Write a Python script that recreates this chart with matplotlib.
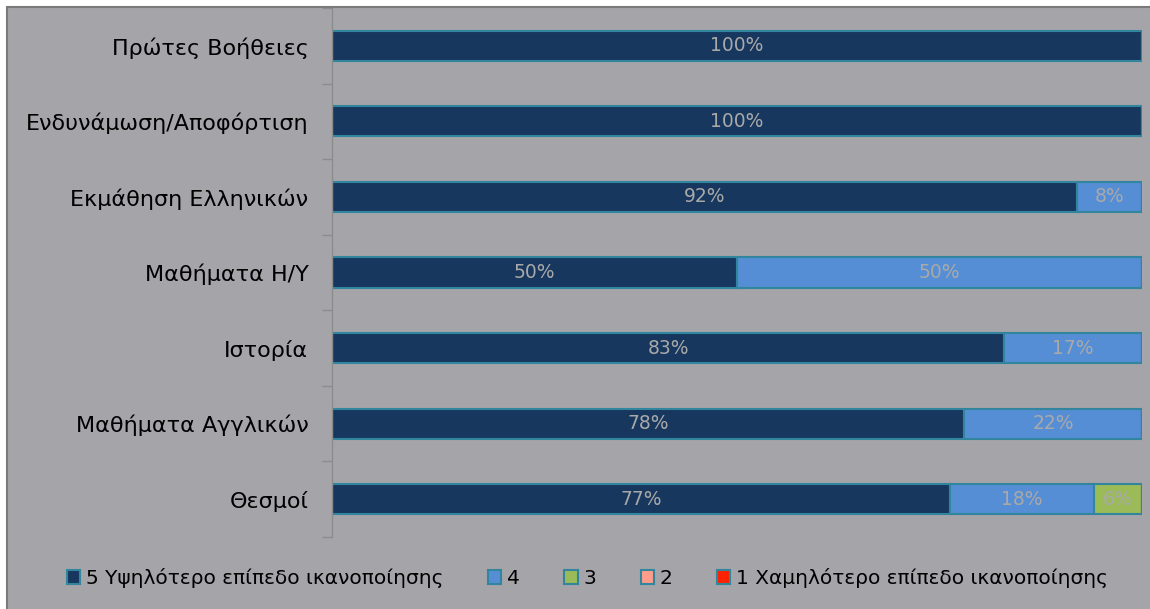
import numpy as np
import matplotlib.pyplot as plt
from matplotlib.patches import Rectangle

# categories (top to bottom)
categories = ['Πρώτες Βοήθειες', 'Ενδυνάμωση/Αποφόρτιση', 'Εκμάθηση Ελληνικών',
              'Μαθήματα Η/Υ', 'Ιστορία', 'Μαθήματα Αγγλικών', 'Θεσμοί']

# percentages per satisfaction level
level5 = [100, 100, 92, 50, 83, 78, 77]
level4 = [0, 0, 8, 50, 17, 22, 18]
level3 = [0, 0, 0, 0, 0, 0, 6]
level2 = [0, 0, 0, 0, 0, 0, 0]
level1 = [0, 0, 0, 0, 0, 0, 0]

series_names = ['5 Υψηλότερο επίπεδο ικανοποίησης', '4', '3', '2',
                '1 Χαμηλότερο επίπεδο ικανοποίησης']
colors = ['#17375e', '#558ed5', '#9bbb59', '#ff9d8a', '#ff2200']

bg = '#a5a4a9'
edge = '#31859c'

fig = plt.figure(figsize=(11.5, 6.09), dpi=100)
fig.patch.set_facecolor('white')
fig.patches.append(Rectangle((7 / 1150, -0.01), 1.02, 1 - 7 / 609 + 0.01,
                             transform=fig.transFigure, facecolor=bg,
                             edgecolor='#7a7a7a', linewidth=1.5, zorder=-5))

ax = fig.add_axes([332 / 1150, 1 - 537 / 609, (1142 - 332) / 1150, (537 - 8) / 609])
ax.patch.set_alpha(0)

data = np.array([level5, level4, level3, level2, level1], dtype=float)
totals = data.sum(axis=0)
shares = data / totals * 100

y = np.arange(len(categories))
left = np.zeros(len(categories))
for i in range(len(series_names)):
    ax.barh(y, shares[i], left=left, height=0.4, color=colors[i],
            edgecolor=edge, linewidth=1.5, label=series_names[i])
    for j in range(len(categories)):
        if data[i, j] > 0:
            ax.text(left[j] + shares[i, j] / 2, y[j], '%d%%' % data[i, j],
                    ha='center', va='center', color='#a9a9a9', fontsize=13.5)
    left += shares[i]

ax.set_xlim(0, 100)
ax.set_ylim(len(categories) - 0.5, -0.5)
ax.set_xticks([])
ax.set_yticks(y)
ax.set_yticklabels(categories, fontsize=16, color='black')
ax.set_yticks(np.arange(len(categories) + 1) - 0.5, minor=True)
ax.tick_params(axis='y', which='major', length=0, pad=17)
ax.tick_params(axis='y', which='minor', length=7, color='#8c8c8c', width=1)
for s in ['top', 'right', 'bottom']:
    ax.spines[s].set_visible(False)
ax.spines['left'].set_color('#8c8c8c')
ax.spines['left'].set_linewidth(1)

handles, labels = ax.get_legend_handles_labels()
leg = fig.legend(handles, labels, loc='center', bbox_to_anchor=(0.511, 1 - 578 / 609),
                 ncol=5, frameon=False, handlelength=0.65,
                 handleheight=0.65, handletextpad=0.3, columnspacing=2.2,
                 prop={'size': 14.5})

fig.savefig('out.png', dpi=100, facecolor=fig.get_facecolor())
